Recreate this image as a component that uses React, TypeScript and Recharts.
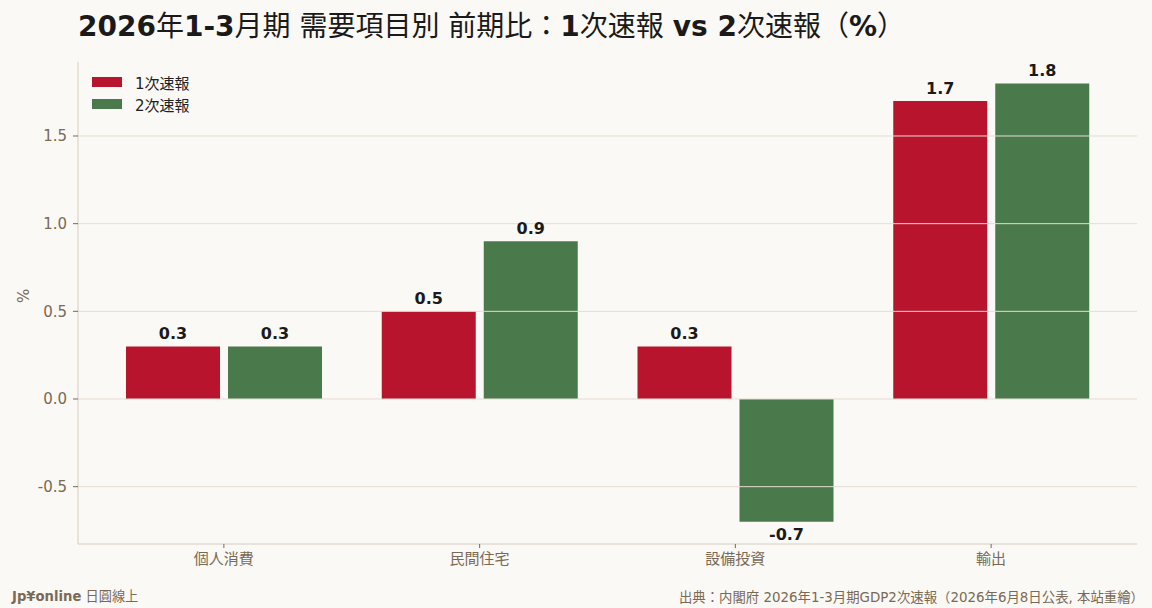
import React from "react"
import { BarChart, Bar, XAxis, YAxis, ReferenceLine, LabelList } from "recharts"

const categories = ["個人消費", "民間住宅", "設備投資", "輸出"]
const firstEstimate = [0.3, 0.5, 0.3, 1.7]
const secondEstimate = [0.3, 0.9, -0.7, 1.8]
const yTicks = [-0.5, 0, 0.5, 1.0, 1.5]

const FONT = "'DejaVu Sans', 'Noto Sans CJK JP', sans-serif"
const BG = "#faf9f5"
const RED = "#b8142d"
const GREEN = "#4a7a4b"
const MUTED = "#7a6a55"
const AXIS = "#d6cebf"
const GRID = "#e4ded2"

const data = categories.map((name, i) => ({
  name,
  first: firstEstimate[i],
  second: secondEstimate[i],
}))

const series = [
  { key: "first", label: "1次速報", color: RED },
  { key: "second", label: "2次速報", color: GREEN },
]

function ValueLabel(props: any) {
  const { x, y, width, height, value } = props
  const top = Math.min(y, y + height)
  const bottom = Math.max(y, y + height)
  const ty = value >= 0 ? top - 7 : bottom + 18
  return (
    <text
      x={x + width / 2}
      y={ty}
      textAnchor="middle"
      fontFamily={FONT}
      fontWeight="bold"
      fontSize={16}
      fill="#1a1a1a"
    >
      {value.toFixed(1)}
    </text>
  )
}

const B = ({ children }: { children: React.ReactNode }) => <span style={{ fontWeight: "bold" }}>{children}</span>

export default function App() {
  return (
    <div
      style={{
        position: "absolute",
        left: 0,
        top: 0,
        width: 1152,
        height: 608,
        background: BG,
        fontFamily: FONT,
        overflow: "hidden",
      }}
    >
      <div
        style={{
          position: "absolute",
          left: 78,
          top: 7,
          fontSize: 28,
          color: "#1a1a1a",
          whiteSpace: "nowrap",
          lineHeight: "40px",
        }}
      >
        <B>2026</B>年<B>1-3</B>月期 需要項目別 前期比：<B>1</B>次速報 <B>vs 2</B>次速報（<B>%</B>）
      </div>
      <BarChart
        width={1152}
        height={608}
        data={data}
        margin={{ top: 62, right: 15, left: 0, bottom: 34 }}
        barSize={94}
        barGap={8}
        style={{ position: "absolute", left: 0, top: 0 }}
      >
        <XAxis
          dataKey="name"
          padding={{ left: 18, right: 18 }}
          height={30}
          axisLine={{ stroke: AXIS }}
          tickLine={{ stroke: MUTED }}
          tickSize={4}
          tickMargin={5}
          tick={{ fill: MUTED, fontSize: 15, fontFamily: FONT }}
        />
        <YAxis
          width={78}
          domain={[-0.827, 1.922]}
          ticks={yTicks}
          allowDataOverflow
          tickFormatter={(v: number) => v.toFixed(1)}
          axisLine={{ stroke: AXIS }}
          tickLine={{ stroke: MUTED }}
          tickSize={5}
          tickMargin={6}
          tick={{ fill: MUTED, fontSize: 15, fontFamily: FONT }}
          label={{ value: "%", angle: -90, position: "insideLeft", offset: 24, fill: MUTED, fontSize: 15, fontFamily: FONT }}
        />
        {series.map((s) => (
          <Bar key={s.key} dataKey={s.key} name={s.label} fill={s.color} isAnimationActive={false}>
            <LabelList dataKey={s.key} content={<ValueLabel />} />
          </Bar>
        ))}
        {yTicks.map((t) => (
          <ReferenceLine key={t} y={t} stroke={GRID} strokeWidth={1} />
        ))}
      </BarChart>
      <div style={{ position: "absolute", left: 92, top: 71, fontSize: 15, color: "#222" }}>
        {series.map((s) => (
          <div key={s.key} style={{ display: "flex", alignItems: "center", height: 22 }}>
            <span style={{ width: 30, height: 10, background: s.color, display: "inline-block", marginRight: 13 }} />
            <span>{s.label}</span>
          </div>
        ))}
      </div>
      <div style={{ position: "absolute", left: 12, top: 586, fontSize: 13.2, color: MUTED, whiteSpace: "nowrap" }}>
        <B>Jp¥online</B> 日圓線上
      </div>
      <div style={{ position: "absolute", right: 8, top: 586, fontSize: 13.4, color: MUTED, whiteSpace: "nowrap" }}>
        出典：内閣府 2026年1-3月期GDP2次速報（2026年6月8日公表, 本站重繪）
      </div>
    </div>
  )
}
